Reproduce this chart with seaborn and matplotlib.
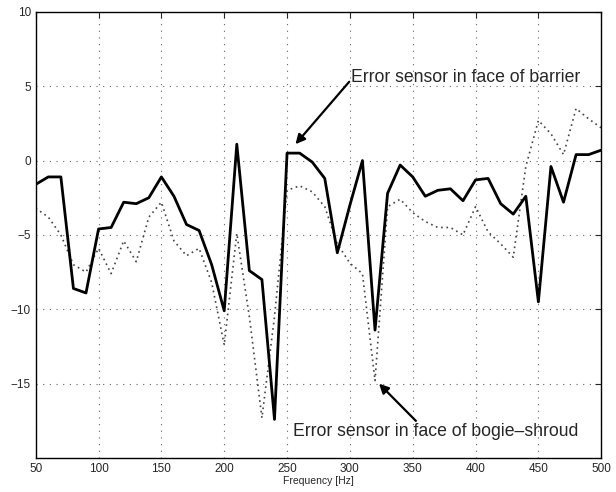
import numpy as np
import pandas as pd
import seaborn as sns
import matplotlib.pyplot as plt

# frequencias (Hz)
freq = list(range(50, 501, 10))

# sensor na face da barreira (linha cheia)
barrier = [-1.6, -1.1, -1.1, -8.6, -8.9, -4.6, -4.5, -2.8, -2.9, -2.5,
           -1.1, -2.4, -4.3, -4.7, -7.0, -10.1, 1.1, -7.4, -8.0, -17.4,
           0.5, 0.5, -0.1, -1.2, -6.2, -3.0, 0.0, -11.4, -2.2, -0.3,
           -1.1, -2.4, -2.0, -1.9, -2.7, -1.3, -1.2, -2.9, -3.6, -2.4,
           -9.5, -0.4, -2.8, 0.4, 0.4, 0.7]

# sensor na face do bogie-shroud (pontilhado)
shroud = [-3.2, -3.8, -5.0, -7.0, -7.5, -5.9, -7.6, -5.4, -6.8, -3.8,
          -2.8, -5.4, -6.4, -5.9, -8.2, -12.4, -4.9, -10.5, -17.3, -10.5,
          -2.0, -1.7, -2.1, -3.1, -5.6, -6.9, -7.6, -14.8, -3.1, -2.6,
          -3.5, -4.1, -4.5, -4.5, -5.0, -3.1, -4.8, -5.6, -6.5, -0.4,
          2.7, 1.8, 0.4, 3.5, 2.8, 2.2]

xticks = [50, 100, 150, 200, 250, 300, 350, 400, 450, 500]
yticks = [-15, -10, -5, 0, 5, 10]

sns.set_style("white")
plt.rcParams['font.family'] = ['Liberation Sans', 'DejaVu Sans']

fig = plt.figure(figsize=(6.16, 4.92), dpi=100)
ax = fig.add_axes([0.058, 0.069, 0.918, 0.907])

sns.lineplot(x=freq, y=shroud, ax=ax, color='#444444', lw=1.2, linestyle=(0, (1, 2.2)))
sns.lineplot(x=freq, y=barrier, ax=ax, color='black', lw=2)

ax.set_xlim(50, 500)
ax.set_ylim(-20, 10)
ax.set_xticks(xticks)
ax.set_yticks(yticks)
ax.tick_params(direction='in', top=True, right=True, labelsize=8.5, length=4, width=0.8)
ax.grid(True, color='#666666', linestyle=(0, (1, 5)), lw=0.8)
for s in ax.spines.values():
    s.set_color('black')
    s.set_linewidth(1)
ax.set_xlabel('Frequency [Hz]', fontsize=7.5, labelpad=1)

arrow = dict(arrowstyle='-|>', color='black', lw=1.6, mutation_scale=14, shrinkA=0, shrinkB=0)

ax.text(301, 5.3, 'Error sensor in face of barrier', fontsize=12.7, va='baseline', ha='left')
ax.annotate('', xy=(256.7, 1.1), xytext=(299.5, 5.3), arrowprops=arrow)

ax.text(255, -18.5, 'Error sensor in face of bogie\u2013shroud', fontsize=12.7, va='baseline', ha='left')
ax.annotate('', xy=(323.2, -15.0), xytext=(352.5, -17.5), arrowprops=arrow)

fig.savefig('out.png', dpi=100)
